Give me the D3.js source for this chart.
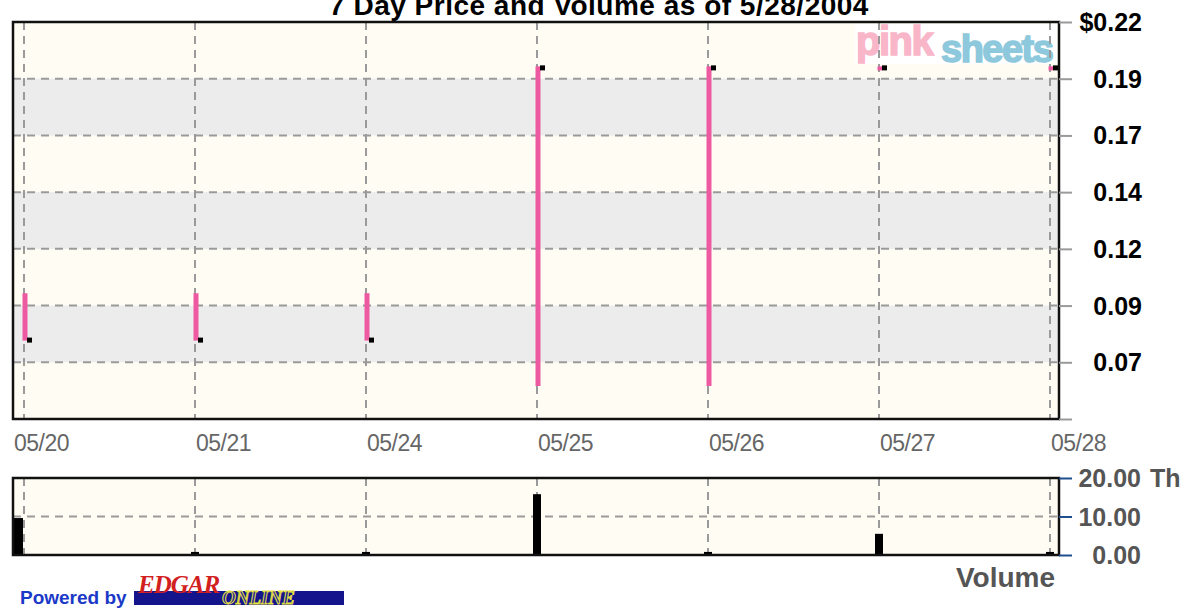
<!DOCTYPE html>
<html>
<head>
<meta charset="utf-8">
<script src="https://cdn.jsdelivr.net/npm/d3@7"></script>
<style>
  body { margin: 0; background: #fff; }
  svg { display: block; font-family: "Liberation Sans", Arial, sans-serif; }
</style>
</head>
<body>
<svg id="chart" width="1189" height="608"></svg>
<script>
// 7 day price / volume
var days = ["05/20", "05/21", "05/24", "05/25", "05/26", "05/27", "05/28"];
var highs = [0.100, 0.100, 0.100, 0.200, 0.200, 0.200, 0.200];
var lows = [0.080, 0.080, 0.080, 0.060, 0.060, 0.200, 0.200];
var closes = [0.080, 0.080, 0.080, 0.200, 0.200, 0.200, 0.200];
var volumes = [9.6, 0.8, 0.8, 15.8, 0.8, 5.5, 0.8]; // thousands

var priceTicks = [0.22, 0.195, 0.17, 0.145, 0.12, 0.095, 0.07];
var priceTickLabels = ["$0.22", "0.19", "0.17", "0.14", "0.12", "0.09", "0.07"];
var volTicks = [20, 10, 0];
var volTickLabels = ["20.00", "10.00", "0.00"];

var svg = d3.select("#chart");

var plot = { left: 13, right: 1059, top: 22, bottom: 419 };
var vplot = { top: 478, bottom: 555 };

var x = d3.scalePoint().domain(days).range([24, 1050]);
var y = d3.scaleLinear().domain([0.045, 0.22]).range([plot.bottom, plot.top]);
var yv = d3.scaleLinear().domain([0, 20]).range([vplot.bottom, vplot.top]);

var cream = "#fffcf3", band = "#ececec", grid = "#9a9a9a";

// title (top is cut by the image edge, as in the original)
svg.append("text")
  .attr("x", 599).attr("y", 15)
  .attr("text-anchor", "middle")
  .style("font-weight", "bold").style("font-size", "28px")
  .style("letter-spacing", "0.5px")
  .text("7 Day Price and Volume as of 5/28/2004");

// price panel background + alternating bands
svg.append("rect")
  .attr("x", plot.left).attr("y", plot.top)
  .attr("width", plot.right - plot.left).attr("height", plot.bottom - plot.top)
  .attr("fill", cream);

var bandEdges = d3.pairs(priceTicks.concat([0.045]));
svg.append("g").selectAll("rect")
  .data(bandEdges.filter(function(d, i) { return i % 2 === 1; }))
  .enter().append("rect")
    .attr("x", plot.left).attr("width", plot.right - plot.left)
    .attr("y", function(d) { return y(d[0]); })
    .attr("height", function(d) { return y(d[1]) - y(d[0]); })
    .attr("fill", band);

// pinksheets logo
var logo = svg.append("g");
logo.append("rect")
  .attr("x", 855).attr("y", plot.top + 2).attr("width", plot.right - 857).attr("height", 40)
  .attr("fill", "#fff");
logo.append("text")
  .attr("x", 856).attr("y", 55)
  .style("font-weight", "bold").style("font-size", "40px")
  .style("letter-spacing", "-1.5px")
  .attr("fill", "#f9b6c9").attr("stroke", "#f9b6c9").attr("stroke-width", 1.5)
  .text("pink");
logo.append("text")
  .attr("x", 941).attr("y", 62)
  .style("font-weight", "bold").style("font-size", "38px")
  .style("letter-spacing", "-1.5px")
  .attr("fill", "#8dc8dc").attr("stroke", "#8dc8dc").attr("stroke-width", 1.5)
  .text("sheets");

// grid lines
svg.append("g").selectAll("line")
  .data(priceTicks.slice(1))
  .enter().append("line")
    .attr("x1", plot.left).attr("x2", plot.right)
    .attr("y1", function(d) { return y(d); }).attr("y2", function(d) { return y(d); })
    .attr("stroke", grid).attr("stroke-width", 2).attr("stroke-dasharray", "8,6");

svg.append("g").selectAll("line")
  .data(days)
  .enter().append("line")
    .attr("x1", function(d) { return x(d); }).attr("x2", function(d) { return x(d); })
    .attr("y1", plot.top).attr("y2", plot.bottom)
    .attr("stroke", grid).attr("stroke-width", 2).attr("stroke-dasharray", "8,6");

// price bars
var bars = svg.append("g").selectAll("g")
  .data(days)
  .enter().append("g");

bars.append("rect")
  .attr("x", function(d) { return x(d) - 1.5; })
  .attr("width", 5)
  .attr("y", function(d, i) { return y(highs[i]) - 1; })
  .attr("height", function(d, i) { return Math.max(4, y(lows[i]) - y(highs[i]) + 2); })
  .attr("fill", "#ee5aa1");

bars.append("rect")
  .attr("x", function(d) { return x(d) + 3; })
  .attr("width", 5)
  .attr("y", function(d, i) { return y(closes[i]) - 2; })
  .attr("height", 5)
  .attr("fill", "#000");

// frame
svg.append("rect")
  .attr("x", plot.left).attr("y", plot.top)
  .attr("width", plot.right - plot.left).attr("height", plot.bottom - plot.top)
  .attr("fill", "none").attr("stroke", "#111").attr("stroke-width", 2.5);

// right price axis
var yAxis = d3.axisRight(y)
  .tickValues(priceTicks.concat([0.045]))
  .tickSize(13)
  .tickPadding(0)
  .tickFormat("");
svg.append("g")
  .attr("transform", "translate(" + plot.right + ",0)")
  .call(yAxis)
  .call(function(g) {
    g.select(".domain").remove();
    g.selectAll(".tick line").attr("stroke", grid).attr("stroke-width", 2);
  });

svg.append("g").selectAll("text")
  .data(priceTicks)
  .enter().append("text")
    .attr("x", 1142)
    .attr("y", function(d) { return y(d) + 9; })
    .attr("text-anchor", "end")
    .style("font-weight", "bold").style("font-size", "25px")
    .attr("fill", "#000")
    .text(function(d, i) { return priceTickLabels[i]; });

// date labels
svg.append("g").selectAll("text")
  .data(days)
  .enter().append("text")
    .attr("x", function(d, i) { return i === 0 ? plot.left + 1 : x(d) + 1; })
    .attr("y", 451)
    .style("font-size", "23px")
    .style("letter-spacing", "-0.5px")
    .attr("fill", "#666")
    .text(function(d) { return d; });

// volume panel
svg.append("rect")
  .attr("x", plot.left).attr("y", vplot.top)
  .attr("width", plot.right - plot.left).attr("height", vplot.bottom - vplot.top)
  .attr("fill", cream);

svg.append("line")
  .attr("x1", plot.left).attr("x2", plot.right)
  .attr("y1", yv(10)).attr("y2", yv(10))
  .attr("stroke", grid).attr("stroke-width", 2).attr("stroke-dasharray", "8,6");

svg.append("g").selectAll("line")
  .data(days)
  .enter().append("line")
    .attr("x1", function(d) { return x(d); }).attr("x2", function(d) { return x(d); })
    .attr("y1", vplot.top).attr("y2", vplot.bottom)
    .attr("stroke", grid).attr("stroke-width", 2).attr("stroke-dasharray", "8,6");

svg.append("g").selectAll("rect")
  .data(days)
  .enter().append("rect")
    .attr("x", function(d, i) { return i === 0 ? plot.left : x(d) - 4; })
    .attr("width", function(d, i) { return i === 0 ? 10 : 8; })
    .attr("y", function(d, i) { return yv(volumes[i]); })
    .attr("height", function(d, i) { return vplot.bottom - yv(volumes[i]); })
    .attr("fill", "#000");

svg.append("rect")
  .attr("x", plot.left).attr("y", vplot.top)
  .attr("width", plot.right - plot.left).attr("height", vplot.bottom - vplot.top)
  .attr("fill", "none").attr("stroke", "#111").attr("stroke-width", 2.5);

var vAxis = d3.axisRight(yv)
  .tickValues(volTicks)
  .tickSize(13)
  .tickFormat("");
svg.append("g")
  .attr("transform", "translate(" + plot.right + ",0)")
  .call(vAxis)
  .call(function(g) {
    g.select(".domain").remove();
    g.selectAll(".tick line").attr("stroke", "#1f4e8c").attr("stroke-width", 2);
  });

svg.append("g").selectAll("text")
  .data(volTicks)
  .enter().append("text")
    .attr("x", 1141)
    .attr("y", function(d) { return yv(d) + 9; })
    .attr("text-anchor", "end")
    .style("font-weight", "bold").style("font-size", "25px")
    .attr("fill", "#555")
    .text(function(d, i) { return volTickLabels[i]; });

svg.append("text")
  .attr("x", 1150).attr("y", yv(20) + 9)
  .style("font-weight", "bold").style("font-size", "25px")
  .attr("fill", "#555")
  .text("Th");

svg.append("text")
  .attr("x", 1055).attr("y", 587)
  .attr("text-anchor", "end")
  .style("font-weight", "bold").style("font-size", "28px")
  .attr("fill", "#555")
  .text("Volume");

// powered by EDGAR Online
var foot = svg.append("g");
foot.append("text")
  .attr("x", 20).attr("y", 604)
  .style("font-weight", "bold").style("font-size", "19px")
  .attr("fill", "#1b39c8")
  .text("Powered by");
foot.append("rect")
  .attr("x", 134).attr("y", 591).attr("width", 210).attr("height", 14)
  .attr("fill", "#14148c");
foot.append("text")
  .attr("x", 138).attr("y", 593)
  .style("font-family", "'Liberation Serif', serif")
  .style("font-weight", "bold").style("font-style", "italic").style("font-size", "25px")
  .style("letter-spacing", "-1px")
  .attr("fill", "#d22020")
  .text("EDGAR");
foot.append("text")
  .attr("x", 222).attr("y", 604)
  .style("font-family", "'Liberation Serif', serif")
  .style("font-weight", "bold").style("font-style", "italic").style("font-size", "19px")
  .attr("fill", "#1e1e9e").attr("stroke", "#e6e040").attr("stroke-width", 1)
  .text("ONLINE");
</script>
</body>
</html>
